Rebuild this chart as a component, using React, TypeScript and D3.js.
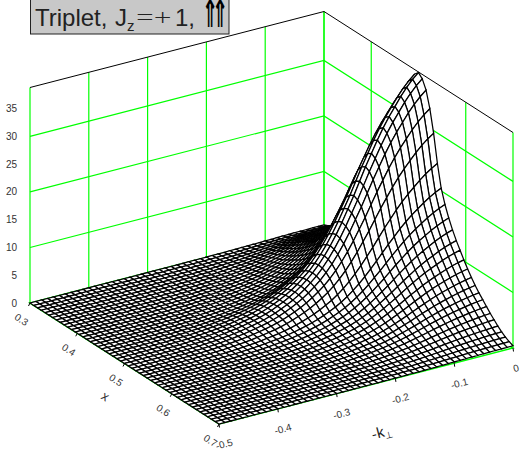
import React from "react";
import * as d3 from "d3";

// Surface heights: a profile read along the k=0 edge
// (x direction) times a fall-off read along the ridge at x=0.5 (k direction).
const edgeProfileX = [0.4,0.7,1.1,1.6,2.2,2.9,3.6,4.4,5.2,6,6.9,7.9,9,10.2,11.5,12.8,14.3,16,18,20.5,24.5,29.5,33.5,36.4,38,38.7,38,36.4,33.5,29.5,24.5,20.5,18,16,14.3,12.8,11.5,10.2,9,7.9,6.9,6,5.2,4.4,3.6,2.9,2.2,1.6,1.1,0.7,0.4];
const ridgeFalloffK = [0.0002,0.0003,0.0006,0.0009,0.0012,0.0015,0.002,0.0025,0.0032,0.004,0.005,0.006,0.0075,0.009,0.011,0.013,0.016,0.019,0.023,0.027,0.032,0.038,0.044,0.051,0.06,0.07,0.082,0.095,0.11,0.127,0.147,0.17,0.195,0.225,0.26,0.3,0.345,0.395,0.45,0.505,0.565,0.625,0.68,0.735,0.785,0.83,0.87,0.91,0.945,0.975,1];

const zTicks = [0,5,10,15,20,25,30,35];
const zGrid = [10,20,30];
const xTicks = [0.3,0.4,0.5,0.6,0.7];
const kTicks = [-0.5,-0.4,-0.3,-0.2,-0.1,0];
const kTickLabels = ["-0.5","-0.4","-0.3","-0.2","-0.1","0"];

const xs = d3.range(edgeProfileX.length).map(i => 0.3 + i * 0.4 / (edgeProfileX.length - 1));
const ks = d3.range(ridgeFalloffK.length).map(j => -0.5 + j * 0.5 / (ridgeFalloffK.length - 1));
const height = (i: number, j: number) => edgeProfileX[i] * ridgeFalloffK[j];

// oblique projection: the box is a parallelogram on screen
const xDx = d3.scaleLinear().domain([0.3,0.7]).range([0,189]);
const xDy = d3.scaleLinear().domain([0.3,0.7]).range([0,121]);
const kDx = d3.scaleLinear().domain([0,-0.5]).range([0,-294]);
const kDy = d3.scaleLinear().domain([0,-0.5]).range([0,76]);
const zDy = d3.scaleLinear().domain([0,38.8]).range([0,-215.5]);
const ox = 324, oy = 227;
const P = (x: number, k: number, z: number): [number, number] =>
  [ox + xDx(x) + kDx(k), oy + xDy(x) + kDy(k) + zDy(z)];
const line = d3.line();
const seg = (a: [number, number], b: [number, number]) => line([a, b]) as string;

const GREEN = "#00ff00";

function surfacePaths() {
  const out: React.ReactElement[] = [];
  for (let i = 0; i < xs.length - 1; i++) {
    for (let j = ks.length - 1; j > 0; j--) {
      const d = line([
        P(xs[i], ks[j], height(i, j)),
        P(xs[i + 1], ks[j], height(i + 1, j)),
        P(xs[i + 1], ks[j - 1], height(i + 1, j - 1)),
        P(xs[i], ks[j - 1], height(i, j - 1)),
      ]) + "Z";
      out.push(<path key={i + "-" + j} d={d} fill="#fff" stroke="#000" strokeWidth={1.25} />);
    }
  }
  return out;
}

export default function App() {
  const lbl = { fontFamily: "'Liberation Sans'", fontSize: 10, fill: "#333" };
  const [x0, x1] = [0.3, 0.7];
  const [k0, k1] = [-0.5, 0];
  const zTop = 38.8;
  const title = { fontFamily: "'Liberation Sans'", fill: "#222" };
  return (
    <svg width={520} height={452} style={{ position: "absolute", left: 0, top: 0 }}>
      <rect width={520} height={452} fill="#fff" />
      {/* walls */}
      <g stroke={GREEN} strokeWidth={1.2} fill="none">
        {kTicks.map(k => <path key={k} d={seg(P(x0,k,0),P(x0,k,zTop))} />)}
        {xTicks.map(x => <path key={x} d={seg(P(x,k1,0),P(x,k1,zTop))} />)}
        {zGrid.map(z => <path key={z} d={line([P(x0,k0,z),P(x0,k1,z),P(x1,k1,z)]) as string} />)}
        <path d={line([P(x0,k0,0),P(x1,k0,0),P(x1,k1,0),P(x0,k1,0),P(x0,k0,0)]) + "Z"} strokeWidth={1.5} />
      </g>
      <path d={line([P(x0,k0,zTop),P(x0,k1,zTop),P(x1,k1,zTop)]) as string} stroke="#000" strokeWidth={1} fill="none" />
      {surfacePaths()}
      {/* ticks */}
      <g stroke="#000" strokeWidth={1}>
        {xTicks.map(x => <path key={x} d={seg(P(x,k0,0),[P(x,k0,0)[0]-1.5,P(x,k0,0)[1]+3])} />)}
        {kTicks.map(k => <path key={k} d={seg(P(x1,k,0),[P(x1,k,0)[0]+0.5,P(x1,k,0)[1]+3.5])} />)}
      </g>
      {/* labels */}
      {zTicks.map(z => (
        <text key={z} x={17} y={P(x0,k0,z)[1]+3.5} textAnchor="end" {...lbl}>{z}</text>
      ))}
      {xTicks.map(x => {
        const p = P(x,k0,0);
        return <text key={x} transform={`translate(${p[0]-10.5},${p[1]+19.5}) rotate(33)`} textAnchor="middle" {...lbl}>{x.toFixed(1)}</text>;
      })}
      {kTicks.map((k,i) => {
        const p = P(x1,k,0);
        return <text key={k} transform={`translate(${p[0]+(k===0?4:6)},${p[1]+23.5}) rotate(-15)`} textAnchor="middle" {...lbl}>{kTickLabels[i]}</text>;
      })}
      <text transform="translate(103,400) rotate(33)" textAnchor="middle" {...lbl} fontSize={13}>x</text>
      <text transform="translate(383,437) rotate(-15)" textAnchor="middle" fontFamily="'Liberation Sans'" fontSize={15} fill="#222">-k<tspan fontSize={9} dy={3}>⊥</tspan></text>
      {/* title */}
      <rect x={30.5} y={-1} width={198.5} height={35} fill="#c8c8c8" stroke="#222" strokeWidth={1} />
      <text x={35} y={26} fontSize={24} {...title}>Triplet,</text>
      <text x={115} y={26} fontSize={24} {...title}>J</text>
      <text x={127} y={31} fontSize={15} {...title}>z</text>
      <text transform="translate(136,26) scale(1.3,1)" fontSize={24} fontFamily="'Open Sans'" fontWeight={300} fill="#222">=+</text>
      <text x={175} y={26} fontSize={24} {...title}>1,</text>
      <g fontFamily="'DejaVu Sans'" fontSize={20} fontWeight={700} fill="#000">
        <text transform="translate(202,27) scale(0.95,1.9)">⇑</text>
        <text transform="translate(212,27) scale(0.95,1.9)">⇑</text>
      </g>
    </svg>
  );
}
